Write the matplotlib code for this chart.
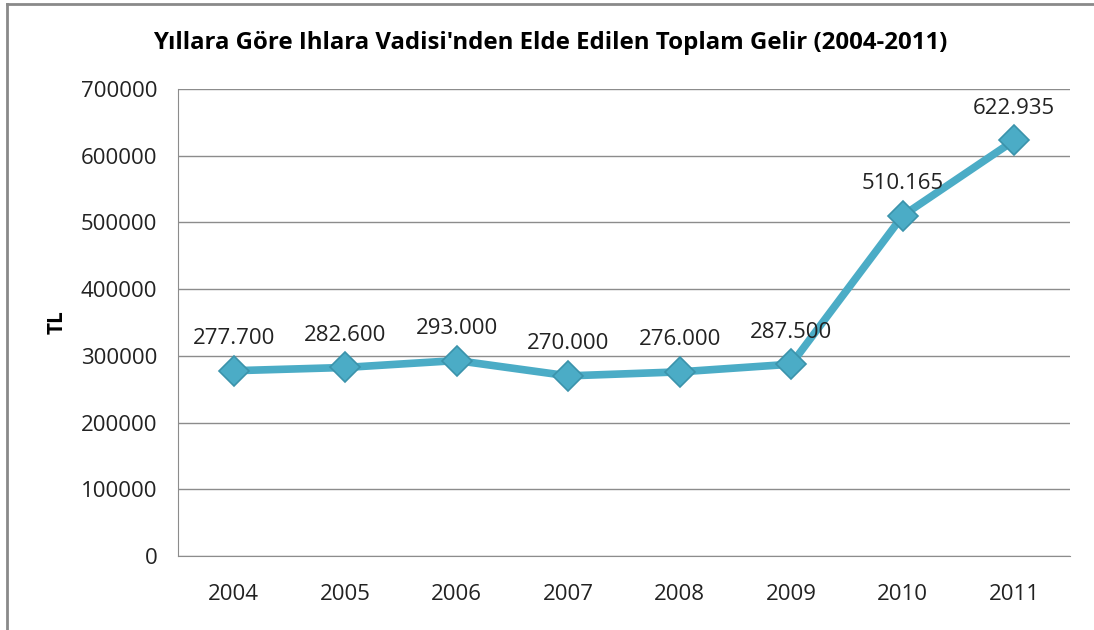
import matplotlib.pyplot as plt
from matplotlib.lines import Line2D

# --- data ---
years = ['2004', '2005', '2006', '2007', '2008', '2009', '2010', '2011']
income = [277700, 282600, 293000, 270000, 276000, 287500, 510165, 622935]
labels = ['277.700', '282.600', '293.000', '270.000', '276.000', '287.500', '510.165', '622.935']
yticks = [0, 100000, 200000, 300000, 400000, 500000, 600000, 700000]

plt.rcParams['font.family'] = ['Open Sans', 'DejaVu Sans']

fig = plt.figure(figsize=(10.94, 6.3), dpi=100)
ax = fig.add_axes([178 / 1094, 1 - 556 / 630, (1070 - 178) / 1094, (556 - 89) / 630])

x = list(range(len(years)))
ax.plot(x, income, color='#4BACC6', linewidth=5.5, marker='D', markersize=15,
        markerfacecolor='#4BACC6', markeredgecolor='#3B93AB', markeredgewidth=1.2,
        solid_capstyle='round', zorder=3)

for xi, yi, lab in zip(x, income, labels):
    ax.annotate(lab, (xi, yi), xytext=(0, 19), textcoords='offset points',
                ha='center', va='baseline', fontsize=16, color='#222222')

ax.set_xlim(-0.5, len(years) - 0.5)
ax.set_ylim(0, 700000)
ax.set_xticks(x)
ax.set_xticklabels(years)
ax.set_yticks(yticks)
ax.set_yticklabels([str(v) for v in yticks])
ax.tick_params(length=0, labelsize=16, labelcolor='#222222')
ax.tick_params(axis='x', pad=20)
ax.tick_params(axis='y', pad=15)
ax.grid(axis='y', color='#8c8c8c', linewidth=1)
ax.set_axisbelow(True)
for side in ['top', 'right']:
    ax.spines[side].set_visible(False)
for side in ['left', 'bottom']:
    ax.spines[side].set_color('#8c8c8c')

fig.text(57 / 1094, 1 - 322 / 630, 'TL', rotation=90, ha='center', va='center',
         fontsize=15, fontweight='bold')
fig.text(550 / 1094, 1 - 43 / 630,
         "Yıllara Göre Ihlara Vadisi'nden Elde Edilen Toplam Gelir (2004-2011)",
         ha='center', va='center', fontsize=17.3, fontweight='bold')

# outer chart frame (only left and top visible in the crop)
fig.add_artist(Line2D([7 / 1094, 7 / 1094], [0, 1 - 4 / 630], color='#8a8a8a', linewidth=2))
fig.add_artist(Line2D([7 / 1094, 1], [1 - 4 / 630, 1 - 4 / 630], color='#8a8a8a', linewidth=2))

fig.savefig('out.png', dpi=100)
